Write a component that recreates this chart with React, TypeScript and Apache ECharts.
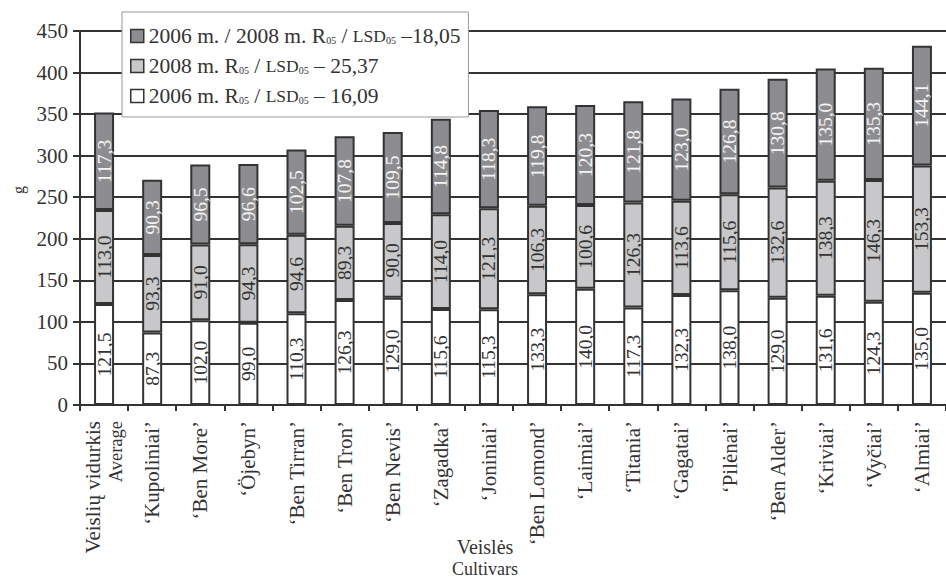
import React, { useEffect, useRef } from "react";
import * as echarts from "echarts";

const categories = [
  "Veislių vidurkis|Average",
  "‘Kupoliniai’",
  "‘Ben More’",
  "‘Öjebyn’",
  "‘Ben Tirran’",
  "‘Ben Tron’",
  "‘Ben Nevis’",
  "‘Zagadka’",
  "‘Joniniai’",
  "‘Ben Lomond’",
  "‘Laimiai’",
  "‘Titania’",
  "‘Gagatai’",
  "‘Pilėnai’",
  "‘Ben Alder’",
  "‘Kriviai’",
  "‘Vyčiai’",
  "‘Almiai’",
];

const values2006 = [121.5, 87.3, 102.0, 99.0, 110.3, 126.3, 129.0, 115.6, 115.3, 133.3, 140.0, 117.3, 132.3, 138.0, 129.0, 131.6, 124.3, 135.0];
const values2008 = [113.0, 93.3, 91.0, 94.3, 94.6, 89.3, 90.0, 114.0, 121.3, 106.3, 100.6, 126.3, 113.6, 115.6, 132.6, 138.3, 146.3, 153.3];
const valuesAvg = [117.3, 90.3, 96.5, 96.6, 102.5, 107.8, 109.5, 114.8, 118.3, 119.8, 120.3, 121.8, 123.0, 126.8, 130.8, 135.0, 135.3, 144.1];

const yTicks = { min: 0, max: 450, interval: 50 };

const seriesNames = ["s2006", "s2008", "sAvg"];
const legendTexts: Record<string, string> = {
  sAvg: "{a|2006 m. / 2008 m. R}{s|05}{a| / }{b|LSD}{s|05}{a| –18,05}",
  s2008: "{a|2008 m. R}{s|05}{a| / }{b|LSD}{s|05}{a| – 25,37}",
  s2006: "{a|2006 m. R}{s|05}{a| / }{b|LSD}{s|05}{a| – 16,09}",
};

const FONT = "'Liberation Serif', 'Times New Roman', serif";
const DARK = "#333333";

export default function App() {
  const ref = useRef<HTMLDivElement>(null);
  useEffect(() => {
    if (!ref.current) return;
    const chart = echarts.init(ref.current, undefined, { renderer: "svg" });
    const fmt = (p: any) => Number(p.value).toFixed(1).replace(".", ",");
    const mkSeries = (name: string, data: number[], color: string, textColor: string) => ({
      name,
      type: "bar",
      stack: "total",
      data,
      barWidth: 20,
      itemStyle: { color, borderColor: DARK, borderWidth: 2 },
      label: {
        show: true,
        position: "inside",
        rotate: 90,
        formatter: fmt,
        fontFamily: FONT,
        fontSize: 19.5,
        color: textColor,
      },
    });
    chart.setOption({
      animation: false,
      textStyle: { fontFamily: FONT },
      grid: { left: 80, top: 31, width: 870, bottom: 173, containLabel: false },
      legend: {
        orient: "vertical",
        left: 122,
        top: 12,
        data: ["sAvg", "s2008", "s2006"],
        backgroundColor: "#ffffff",
        borderColor: "#999999",
        borderWidth: 1,
        padding: [13, 8, 10, 8],
        itemGap: 8,
        itemWidth: 13,
        itemHeight: 13,
        icon: "rect",
        itemStyle: { borderColor: DARK, borderWidth: 1.5 },
        formatter: (name: string) => legendTexts[name],
        textStyle: {
          fontFamily: FONT,
          color: DARK,
          rich: {
            a: { fontSize: 21.5, fontFamily: FONT, color: DARK, lineHeight: 20 },
            b: { fontSize: 17.5, fontFamily: FONT, color: DARK, lineHeight: 20 },
            s: { fontSize: 10, fontFamily: FONT, color: DARK, lineHeight: 20, padding: [9, 0, 0, 0] },
          },
        },
        z: 10,
      },
      xAxis: {
        type: "category",
        data: categories,
        axisLine: { lineStyle: { color: DARK, width: 2 } },
        axisTick: { show: true, length: 6, lineStyle: { color: DARK, width: 2 } },
        axisLabel: {
          interval: 0,
          rotate: 90,
          margin: 16,
          color: DARK,
          fontFamily: FONT,
          fontSize: 21,
          formatter: (v: string) => {
            if (v.indexOf("|") >= 0) {
              const [a, b] = v.split("|");
              return `{m|${a}}\n{s|${b}}`;
            }
            return `{m|${v}}`;
          },
          rich: {
            m: { fontSize: 21, fontFamily: FONT, color: DARK, lineHeight: 23 },
            s: { fontSize: 18.5, fontFamily: FONT, color: DARK, lineHeight: 22 },
          },
        },
      },
      yAxis: {
        type: "value",
        min: yTicks.min,
        max: yTicks.max,
        interval: yTicks.interval,
        axisLine: { show: true, lineStyle: { color: DARK, width: 2 } },
        axisTick: { show: true, length: 7, lineStyle: { color: DARK, width: 2 } },
        axisLabel: { color: DARK, fontFamily: FONT, fontSize: 21, margin: 12 },
        splitLine: { show: true, lineStyle: { color: DARK, width: 2 } },
      },
      graphic: [
        {
          type: "text",
          x: 18,
          y: 190,
          rotation: Math.PI / 2,
          style: { text: "g", font: `16px ${FONT}`, fill: DARK, align: "center", verticalAlign: "middle" },
        },
        {
          type: "text",
          x: 485,
          y: 547,
          style: { text: "Veislės", font: `20px ${FONT}`, fill: DARK, align: "center", verticalAlign: "middle" },
        },
        {
          type: "text",
          x: 485,
          y: 569,
          style: { text: "Cultivars", font: `18px ${FONT}`, fill: DARK, align: "center", verticalAlign: "middle" },
        },
      ],
      series: [
        mkSeries(seriesNames[0], values2006, "#ffffff", DARK),
        mkSeries(seriesNames[1], values2008, "#c8c8ca", DARK),
        mkSeries(seriesNames[2], valuesAvg, "#8d8d91", "#f4f4f4"),
      ],
    });
    return () => chart.dispose();
  }, []);
  return <div ref={ref} style={{ width: 946, height: 578, position: "absolute", left: 0, top: 0 }} />;
}
